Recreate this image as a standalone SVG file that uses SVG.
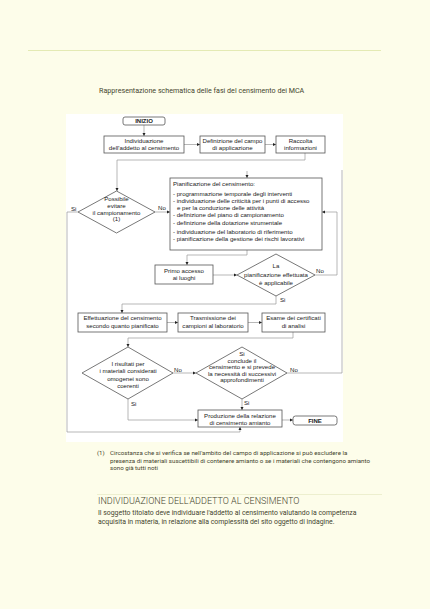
<svg xmlns="http://www.w3.org/2000/svg" width="430" height="609" viewBox="0 0 430 609">
<style>
.bg{fill:#fdfdea}
.panel{fill:#ffffff}
.box{fill:#ffffff;stroke:#555;stroke-width:0.8}
.con{fill:none;stroke:#9a9a9a;stroke-width:0.7}
.t{font-family:"Liberation Sans",Arial,sans-serif;font-size:6.1px;fill:#1a1a1a}
.tm{text-anchor:middle}
.b{font-weight:bold;font-size:6px}
.pg{font-family:Roboto,"Noto Sans",sans-serif;fill:#45452e}
</style>
<defs>
<marker id="ah" viewBox="0 0 6 6" refX="6" refY="3" markerWidth="3.2" markerHeight="3.2" markerUnits="userSpaceOnUse" orient="auto">
<path d="M0,0 L6,3 L0,6 Z" fill="#222"/>
</marker>
</defs>
<rect class="bg" x="0" y="0" width="430" height="609"/>
<line x1="28" y1="50.5" x2="381" y2="50.5" stroke="#e4eab4" stroke-width="1"/>
<text class="pg" x="99" y="93" font-size="7.15">Rappresentazione schematica delle fasi del censimento dei MCA</text>
<rect class="panel" x="66" y="114" width="277" height="328"/>

<g id="connectors">
<line class="con" x1="144" y1="125" x2="144" y2="136" marker-end="url(#ah)"/>
<line class="con" x1="184" y1="144.5" x2="200" y2="144.5" marker-end="url(#ah)"/>
<line class="con" x1="265" y1="144.5" x2="276" y2="144.5" marker-end="url(#ah)"/>
<path class="con" d="M305,153 V160 H117 V191" marker-end="url(#ah)"/>
<line class="con" x1="247" y1="171" x2="247" y2="178" marker-end="url(#ah)"/>
<line class="con" x1="155" y1="212" x2="170" y2="212" marker-end="url(#ah)"/>
<path class="con" d="M78,212 H67 V432 H240 V427" marker-end="url(#ah)"/>
<path class="con" d="M247,250 V255 H187 V265" marker-end="url(#ah)"/>
<line class="con" x1="213" y1="275" x2="237" y2="275" marker-end="url(#ah)"/>
<path class="con" d="M315,275 H337 V212 H322" marker-end="url(#ah)"/>
<path class="con" d="M276,296 V304 H122 V313" marker-end="url(#ah)"/>
<line class="con" x1="167" y1="322.5" x2="178" y2="322.5" marker-end="url(#ah)"/>
<line class="con" x1="248" y1="322.5" x2="262" y2="322.5" marker-end="url(#ah)"/>
<path class="con" d="M293,332 V338 H128 V347" marker-end="url(#ah)"/>
<line class="con" x1="173" y1="373" x2="196" y2="373" marker-end="url(#ah)"/>
<path class="con" d="M287,373 H342 V170"/>
<path class="con" d="M128,399 V420 H198" marker-end="url(#ah)"/>
<line class="con" x1="242" y1="399" x2="242" y2="410" marker-end="url(#ah)"/>
<line class="con" x1="282" y1="420" x2="293" y2="420" marker-end="url(#ah)"/>
<text class="t" x="71" y="211">Si</text>
<text class="t" x="158" y="210">No</text>
<text class="t" x="316" y="272.5">No</text>
<text class="t" x="280" y="302">Si</text>
<text class="t" x="174" y="372">No</text>
<text class="t" x="290" y="372">No</text>
<text class="t" x="131" y="406">Si</text>
<text class="t" x="244" y="404.5">Si</text>
</g>

<g id="n-inizio">
<rect class="box" x="123" y="117" width="42" height="8" rx="2"/>
<text class="t tm b" x="144" y="123.2">INIZIO</text>
</g>
<g id="n-individuazione">
<rect class="box" x="104" y="136" width="80" height="17"/>
<text class="t tm" x="144" y="143">Individuazione</text>
<text class="t tm" x="144" y="150">dell'addetto al censimento</text>
</g>
<g id="n-definizione">
<rect class="box" x="200" y="136" width="65" height="17"/>
<text class="t tm" x="232.5" y="143">Definizione del campo</text>
<text class="t tm" x="232.5" y="150">di applicazione</text>
</g>
<g id="n-raccolta">
<rect class="box" x="276" y="136" width="49" height="17"/>
<text class="t tm" x="300.5" y="143">Raccolta</text>
<text class="t tm" x="300.5" y="150">informazioni</text>
</g>
<g id="d-possibile">
<polygon class="box" points="116.5,191 155,212 116.5,233 78,212"/>
<text class="t tm" x="116.5" y="201">Possibile</text>
<text class="t tm" x="116.5" y="207.5">evitare</text>
<text class="t tm" x="116.5" y="214.5">il campionamento</text>
<text class="t tm" x="116.5" y="221">(1)</text>
</g>
<g id="n-pianificazione">
<rect class="box" x="170" y="178" width="152" height="72"/>
<text class="t" x="173" y="186">Pianificazione del censimento:</text>
<text class="t" x="173" y="196">- programmazione temporale degli interventi</text>
<text class="t" x="173" y="203">- individuazione delle criticità per i punti di accesso</text>
<text class="t" x="177" y="209.7">e per la conduzione delle attività</text>
<text class="t" x="173" y="217">- definizione del piano di campionamento</text>
<text class="t" x="173" y="225.3">- definizione della dotazione strumentale</text>
<text class="t" x="173" y="233.7">- individuazione del laboratorio di riferimento</text>
<text class="t" x="173" y="241.3">- pianificazione della gestione dei rischi lavorativi</text>
</g>
<g id="n-primo">
<rect class="box" x="155" y="265" width="58" height="19"/>
<text class="t tm" x="184" y="273">Primo accesso</text>
<text class="t tm" x="184" y="279.5">ai luoghi</text>
</g>
<g id="d-applicabile">
<polygon class="box" points="276,254 315,275 276,296 237,275"/>
<text class="t tm" x="276" y="268">La</text>
<text class="t tm" x="276" y="277">pianificazione effettuata</text>
<text class="t tm" x="276" y="285">è applicabile</text>
</g>
<g id="n-effettuazione">
<rect class="box" x="78" y="313" width="89" height="19"/>
<text class="t tm" x="122.5" y="319.5">Effettuazione del censimento</text>
<text class="t tm" x="122.5" y="327.5">secondo quanto pianificato</text>
</g>
<g id="n-trasmissione">
<rect class="box" x="178" y="313" width="70" height="19"/>
<text class="t tm" x="213" y="319.5">Trasmissione dei</text>
<text class="t tm" x="213" y="327.5">campioni al laboratorio</text>
</g>
<g id="n-esame">
<rect class="box" x="262" y="313" width="63" height="19"/>
<text class="t tm" x="293.5" y="319.5">Esame dei certificati</text>
<text class="t tm" x="293.5" y="327.5">di analisi</text>
</g>
<g id="d-risultati">
<polygon class="box" points="128,347 173,373 128,399 82,373"/>
<text class="t tm" x="128" y="366">I risultati per</text>
<text class="t tm" x="128" y="373">i materiali considerati</text>
<text class="t tm" x="128" y="380.5">omogenei sono</text>
<text class="t tm" x="128" y="388">coerenti</text>
</g>
<g id="d-conclude">
<polygon class="box" points="242,347 287,373 242,399 196,373"/>
<text class="t tm" x="242" y="356">Si</text>
<text class="t tm" x="242" y="362.5">conclude il</text>
<text class="t tm" x="242" y="369">censimento e si prevede</text>
<text class="t tm" x="242" y="375.5">la necessità di successivi</text>
<text class="t tm" x="242" y="382">approfondimenti</text>
</g>
<g id="n-produzione">
<rect class="box" x="198" y="410" width="84" height="17"/>
<text class="t tm" x="240" y="417.5">Produzione della relazione</text>
<text class="t tm" x="240" y="424.5">di censimento amianto</text>
</g>
<g id="n-fine">
<rect class="box" x="293" y="416" width="44" height="9" rx="2.5"/>
<text class="t tm b" x="315" y="422.7">FINE</text>
</g>

<text class="pg" x="97" y="455" font-size="6.2">(1)</text>
<text class="pg" x="110" y="455" font-size="6.2">Circostanza che si verifica se nell'ambito del campo di applicazione si può escludere la</text>
<text class="pg" x="110" y="462.5" font-size="6.2">presenza di materiali suscettibili di contenere amianto o se i materiali che contengono amianto</text>
<text class="pg" x="110" y="470" font-size="6.2">sono già tutti noti</text>
<line x1="97" y1="494.5" x2="382" y2="494.5" stroke="#e8ebc8" stroke-width="0.8"/>
<text class="pg" x="98" y="503.5" font-size="9" font-weight="300">INDIVIDUAZIONE DELL'ADDETTO AL CENSIMENTO</text>
<text class="pg" x="98" y="514.5" font-size="6.9">Il soggetto titolato deve individuare l'addetto al censimento valutando la competenza</text>
<text class="pg" x="98" y="523.5" font-size="6.9">acquisita in materia, in relazione alla complessità del sito oggetto di indagine.</text>
</svg>
